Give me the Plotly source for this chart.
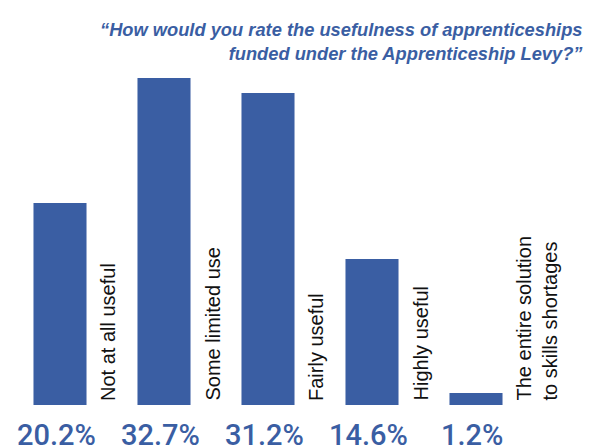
import plotly.graph_objects as go

categories = ["Not at all useful", "Some limited use", "Fairly useful", "Highly useful",
              "The entire solution<br>to skills shortages"]
values = [20.2, 32.7, 31.2, 14.6, 1.2]
pct_labels = ["20.2%", "32.7%", "31.2%", "14.6%", "1.2%"]
title_text = "“How would you rate the usefulness of apprenticeships<br>funded under the Apprenticeship Levy?”"

BLUE = "#3a5ea3"

fig = go.Figure(go.Bar(x=categories, y=values, marker=dict(color=BLUE, line=dict(width=0)),
                       hoverinfo="skip"))

annotations = []
for i, (c, p) in enumerate(zip(categories, pct_labels)):
    annotations.append(dict(x=c, y=0, xref="x", yref="y", text=p, showarrow=False,
                            xanchor="center", yanchor="top", yshift=-11, xshift=-4,
                            font=dict(family="Roboto", size=29, color=BLUE, weight=500)))
    annotations.append(dict(x=c, y=0, xref="x", yref="y", text=c, showarrow=False,
                            textangle=-90, xanchor="center", yanchor="bottom",
                            xshift=60 if "<br>" in c else 48, yshift=2, align="left",
                            font=dict(family="Liberation Sans", size=20, color="#111111")))
annotations.append(dict(x=1.109, y=0.977, xref="paper", yref="paper", text=title_text,
                        showarrow=False, xanchor="right", yanchor="top", align="right",
                        font=dict(family="Liberation Sans", size=18.3, color=BLUE,
                                  style="italic", weight="bold")))

fig.update_layout(
    width=583, height=440,
    margin=dict(l=0, r=63, t=0, b=43, autoexpand=False),
    paper_bgcolor="white", plot_bgcolor="white",
    bargap=0.49,
    showlegend=False,
    xaxis=dict(visible=False, range=[-0.5, 4.5]),
    yaxis=dict(visible=False, range=[0, 39.7]),
    annotations=annotations,
)

fig.write_html("out.html")
